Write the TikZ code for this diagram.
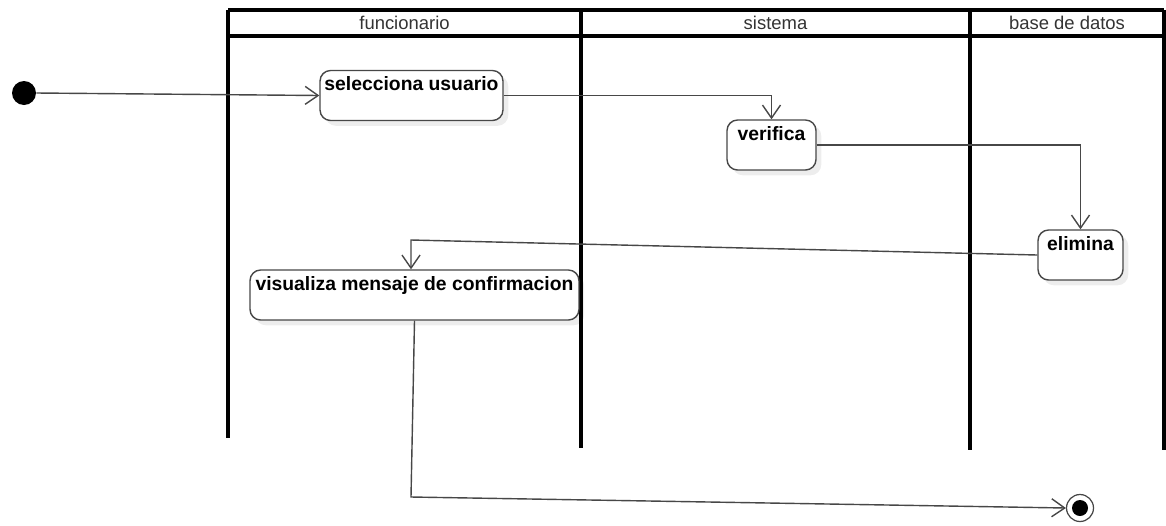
\documentclass[tikz,border=0pt]{standalone}
\usepackage{fontspec}
\setmainfont{Liberation Sans}
\usetikzlibrary{arrows.meta, positioning, calc, shadows}
\definecolor{FlowGray}{HTML}{474747}
\definecolor{TitleGray}{HTML}{333333}

\tikzset{
  lane/.style={line width=2pt, color=black},
  lanetitle/.style={font=\fontsize{10.5}{12}\selectfont, color=TitleGray, inner sep=0pt},
  activity/.style={draw=FlowGray, fill=white, rounded corners=6pt, line width=0.8pt,
    inner sep=0pt, text height=0.4cm, text depth=0.6cm,
    font=\bfseries\fontsize{11}{13}\selectfont,
    drop shadow={shadow xshift=3pt, shadow yshift=-3pt, fill=black, opacity=0.07}},
  initial/.style={circle, fill=black, minimum size=0.48cm, inner sep=0pt},
  final/.style={circle, draw=FlowGray, fill=white, line width=0.7pt, minimum size=0.54cm, inner sep=0pt,
    path picture={\fill[black] (path picture bounding box.center) circle (0.16cm);}},
  flow/.style={-{Straight Barb[length=2.6mm, width=3.6mm]}, color=FlowGray, line width=0.8pt}
}

\begin{document}
\begin{tikzpicture}[x=0.02cm, y=-0.02cm]
  \useasboundingbox (0,0) rectangle (1166,525);

  % Swimlanes
  \draw[lane] (228,10) -- (1164,10);
  \draw[lane] (228,36) -- (1164,36);
  \draw[lane] (228,10) -- (228,438);
  \draw[lane] (581,10) -- (581,448);
  \draw[lane] (970,10) -- (970,450);
  \draw[lane] (1164,10) -- (1164,450);
  \node[lanetitle] (funcionario) at (404.5,23) {funcionario};
  \node[lanetitle] (sistema) at (775.5,23) {sistema};
  \node[lanetitle] (basedatos) at (1067,23) {base de datos};

  % Activities
  \node[initial] (inicio) at (24,93) {};
  \node[activity, minimum width=3.66cm] (selecciona) at (411.5,95.5) {selecciona usuario};
  \node[activity, minimum width=1.78cm] (verifica) at (771.5,145) {verifica};
  \node[activity, minimum width=1.70cm] (elimina) at (1080.5,255) {elimina};
  \node[activity, minimum width=6.58cm] (visualiza) at (414.5,295) {visualiza mensaje de confirmacion};
  \node[final] (fin) at (1080,508) {};

  % Bends of the return paths
  \coordinate (codoA) at (411,240);
  \coordinate (codoB) at (411,497);

  % Control flow
  \draw[flow] (inicio.east) -- (selecciona.west);
  \draw[flow] (selecciona.east) -| (verifica.north);
  \draw[flow] (verifica.east) -| (elimina.north);
  \draw[flow] (elimina.west) -- (codoA) -- (codoA |- visualiza.north);
  \draw[flow] (visualiza.south) -- (codoB) -- (fin.west);
\end{tikzpicture}
\end{document}
